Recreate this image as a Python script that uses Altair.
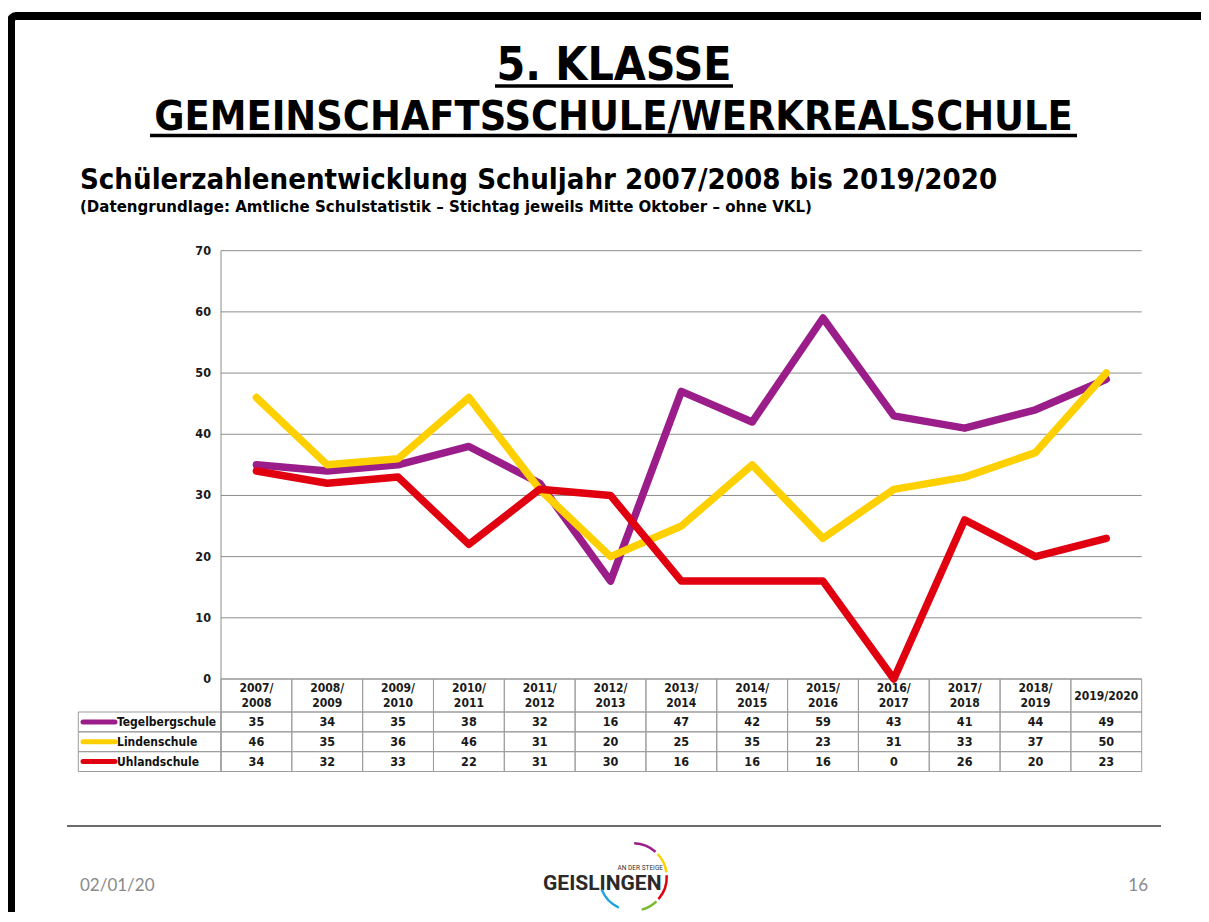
import math
import altair as alt
import pandas as pd

# ---------------- data ----------------
years = ["2007/2008", "2008/2009", "2009/2010", "2010/2011", "2011/2012", "2012/2013",
         "2013/2014", "2014/2015", "2015/2016", "2016/2017", "2017/2018", "2018/2019", "2019/2020"]
tegelberg = [35, 34, 35, 38, 32, 16, 47, 42, 59, 43, 41, 44, 49]
linden = [46, 35, 36, 46, 31, 20, 25, 35, 23, 31, 33, 37, 50]
uhland = [34, 32, 33, 22, 31, 30, 16, 16, 16, 0, 26, 20, 23]
schools = ["Tegelbergschule", "Lindenschule", "Uhlandschule"]
school_colors = ["#9a1d8a", "#ffd000", "#e1000f"]
y_ticks = [0, 10, 20, 30, 40, 50, 60, 70]

title_lines = ["5. KLASSE", "GEMEINSCHAFTSSCHULE/WERKREALSCHULE"]
subtitle = "Schülerzahlenentwicklung Schuljahr 2007/2008 bis 2019/2020"
note = "(Datengrundlage: Amtliche Schulstatistik – Stichtag jeweils Mitte Oktober – ohne VKL)"
footer_date = "02/01/20"
page_no = "16"
logo_text = "GEISLINGEN"
logo_small = "AN DER STEIGE"

# ---------------- tables built from the lists ----------------
series = [tegelberg, linden, uhland]
long_df = pd.DataFrame([
    {"school": s, "year": yr, "value": v}
    for s, vals in zip(schools, series)
    for yr, v in zip(years, vals)
])
last = len(years) - 1
header_df = pd.DataFrame({
    "year": years,
    "label": [yr if i == last else yr.replace("/", "/\n") for i, yr in enumerate(years)],
    "two": [i != last for i in range(len(years))],
})
ticks_df = pd.DataFrame({"tick": y_ticks})
school_df = pd.DataFrame({"school": schools})
one = pd.DataFrame({"a": [0]})

# ---------------- geometry (page px -> view px) ----------------
def px(v):
    return v - 8

F = "DejaVu Sans Condensed, DejaVu Sans"
PL, PR, PT, PB = 221, 1141.7, 250.7, 679
ROW_TOP, ROW_BOT = 712, 771.5
GRID = "#8c8c8c"
CELL = "#9d9d9d"

xs = alt.Scale(type="band", domain=years, range=[px(PL), px(PR)], paddingInner=0, paddingOuter=0)
vs = alt.Scale(domain=[0, 70], range=[px(PB), px(PT)], nice=False, zero=False)
rs = alt.Scale(type="band", domain=schools, range=[px(ROW_TOP), px(ROW_BOT)], paddingInner=0, paddingOuter=0)
cs = alt.Scale(domain=schools, range=school_colors)

layers = []

# slide frame
layers.append(alt.Chart(one).mark_rect(filled=False, stroke="black", strokeWidth=8, cornerRadius=5).encode(
    x=alt.value(px(11)), y=alt.value(px(16)), x2=alt.value(1400), y2=alt.value(1400)))

# titles
def text_layer(txt, x, y, size, align="left", weight="bold", font=F, color="black"):
    return alt.Chart(pd.DataFrame({"t": [txt]})).mark_text(
        align=align, baseline="alphabetic", font=font, fontSize=size, fontWeight=weight, color=color
    ).encode(x=alt.value(px(x)), y=alt.value(px(y)), text="t:N")

layers.append(text_layer(title_lines[0], 614, 80, 46, align="center"))
layers.append(text_layer(title_lines[1], 613.5, 130, 41, align="center"))
layers.append(alt.Chart(one).mark_rule(color="black", strokeWidth=3.5).encode(
    x=alt.value(px(495)), x2=alt.value(px(733)), y=alt.value(px(86))))
layers.append(alt.Chart(one).mark_rule(color="black", strokeWidth=3.5).encode(
    x=alt.value(px(150)), x2=alt.value(px(1077)), y=alt.value(px(135.5))))
layers.append(text_layer(subtitle, 80, 189, 29.1))
layers.append(text_layer(note, 80, 212, 16.7))

# grid lines & y labels
layers.append(alt.Chart(ticks_df).mark_rule(color=GRID, strokeWidth=1).encode(
    y=alt.Y("tick:Q", scale=vs, axis=None), x=alt.value(px(PL)), x2=alt.value(px(PR))))
layers.append(alt.Chart(ticks_df).mark_text(
    align="right", baseline="middle", font=F, fontSize=12.5, fontWeight="bold", color="#1a1a1a"
).encode(y=alt.Y("tick:Q", scale=vs, axis=None), x=alt.value(px(211)), text="tick:Q"))
layers.append(alt.Chart(one).mark_rule(color=GRID, strokeWidth=1).encode(
    x=alt.value(px(PL)), y=alt.value(px(PT)), y2=alt.value(px(ROW_BOT))))

# table cells
layers.append(alt.Chart(header_df).mark_rect(filled=False, stroke=CELL, strokeWidth=1).encode(
    x=alt.X("year:N", scale=xs, axis=None), y=alt.value(px(PB)), y2=alt.value(px(ROW_TOP))))
layers.append(alt.Chart(long_df).mark_rect(filled=False, stroke=CELL, strokeWidth=1).encode(
    x=alt.X("year:N", scale=xs, axis=None), y=alt.Y("school:N", scale=rs, axis=None)))
layers.append(alt.Chart(school_df).mark_rect(filled=False, stroke=CELL, strokeWidth=1).encode(
    x=alt.value(px(78.3)), x2=alt.value(px(PL)), y=alt.Y("school:N", scale=rs, axis=None)))

# header labels (two-line labels start one half line above the row centre)
hdr = dict(lineBreak="\n", lineHeight=15, align="center", baseline="middle",
           font=F, fontSize=12, fontWeight="bold", color="#1a1a1a")
layers.append(alt.Chart(header_df).transform_filter("datum.two").mark_text(**hdr).encode(
    x=alt.X("year:N", scale=xs, bandPosition=0.5, axis=None), y=alt.value(px(688)), text="label:N"))
layers.append(alt.Chart(header_df).transform_filter("!datum.two").mark_text(**hdr).encode(
    x=alt.X("year:N", scale=xs, bandPosition=0.5, axis=None), y=alt.value(px(695.5)), text="label:N"))

# values
layers.append(alt.Chart(long_df).mark_text(
    align="center", baseline="middle", font=F, fontSize=12.5, fontWeight="bold", color="#1a1a1a"
).encode(x=alt.X("year:N", scale=xs, bandPosition=0.5, axis=None),
         y=alt.Y("school:N", scale=rs, bandPosition=0.5, axis=None), text="value:Q"))

# legend swatches + names
layers.append(alt.Chart(school_df).mark_rule(strokeWidth=5, strokeCap="round").encode(
    x=alt.value(px(83)), x2=alt.value(px(115)),
    y=alt.Y("school:N", scale=rs, bandPosition=0.5, axis=None),
    color=alt.Color("school:N", scale=cs, legend=None)))
layers.append(alt.Chart(school_df).mark_text(
    align="left", baseline="middle", font=F, fontSize=12, fontWeight="bold", color="#111"
).encode(x=alt.value(px(117)), y=alt.Y("school:N", scale=rs, bandPosition=0.5, axis=None), text="school:N"))

# lines (drawn in series order)
for s in schools:
    layers.append(alt.Chart(long_df).transform_filter(alt.datum.school == s).mark_line(
        strokeWidth=7.5, strokeCap="round", strokeJoin="round"
    ).encode(x=alt.X("year:N", scale=xs, bandPosition=0.5, axis=None),
             y=alt.Y("value:Q", scale=vs, axis=None),
             color=alt.Color("school:N", scale=cs, legend=None)))

# footer
layers.append(alt.Chart(one).mark_rule(color="#6a6a6a", strokeWidth=2).encode(
    x=alt.value(px(67)), x2=alt.value(px(1161)), y=alt.value(px(826))))
layers.append(text_layer(footer_date, 80, 891, 17, weight="normal", font="Lato", color="#8a8a8a"))
layers.append(text_layer(page_no, 1148, 891, 17, align="right", weight="normal", font="Lato", color="#8a8a8a"))
layers.append(text_layer(logo_text, 543, 890, 21, font="Roboto", color="#2a2a2a"))
layers.append(text_layer(logo_small, 663, 870, 6.5, align="right", weight="normal", font="Roboto", color="#333"))

arc_parts = [("#9a1d8a", 2, 42), ("#ffd000", 47, 82), ("#e1000f", 87, 131), ("#7ab82e", 136, 165), ("#1fa3df", 205, 248)]
for col, a0, a1 in arc_parts:
    layers.append(alt.Chart(one).mark_arc(
        radius=35, radius2=32.5, theta=math.radians(a0), theta2=math.radians(a1), color=col
    ).encode(x=alt.value(px(633)), y=alt.value(px(877))))

chart = alt.layer(*layers).resolve_scale(y="independent").properties(
    width=1193, height=904, autosize=alt.AutoSizeParams(type="none"), padding=0, background="white"
).configure_view(stroke=None)

chart.save("out.html", embed_options={"renderer": "svg", "actions": False})
